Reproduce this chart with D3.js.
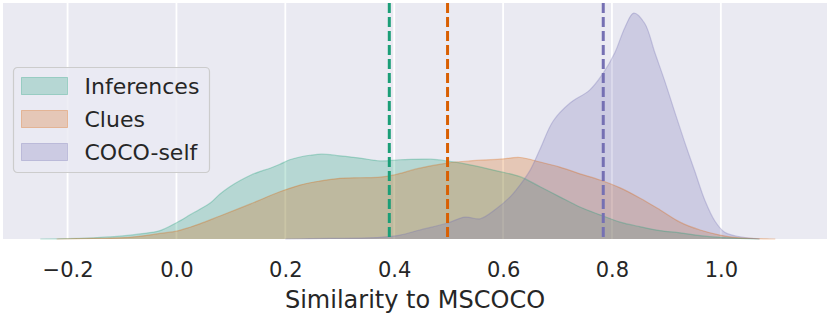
<!DOCTYPE html>
<html>
<head>
<meta charset="utf-8">
<script src="https://cdn.jsdelivr.net/npm/d3@7"></script>
<style>
  body { margin: 0; background: #fff; }
  text { font-family: "DejaVu Sans", sans-serif; fill: #262626; }
</style>
</head>
<body>
<svg id="chart"></svg>
<script>
const width = 830, height = 314;
const margin = {top: 3, right: 3, bottom: 75, left: 3};

// KDE curves: x values and density at each x
const infX = [-0.25, -0.20, -0.153, -0.104, -0.067, -0.03, 0.0, 0.025, 0.043, 0.062, 0.080, 0.098, 0.117, 0.135, 0.153, 0.172, 0.190, 0.208, 0.227, 0.245, 0.267, 0.30, 0.337, 0.374, 0.411, 0.466, 0.502, 0.539, 0.594, 0.631, 0.668, 0.704, 0.741, 0.778, 0.815, 0.851, 0.888, 0.925, 0.962, 0.998, 1.07];
const infY = [0, 0.005, 0.02, 0.05, 0.09, 0.15, 0.29, 0.43, 0.53, 0.64, 0.80, 0.93, 1.04, 1.13, 1.20, 1.26, 1.33, 1.41, 1.46, 1.49, 1.51, 1.48, 1.44, 1.39, 1.41, 1.42, 1.38, 1.32, 1.20, 1.11, 0.93, 0.75, 0.57, 0.43, 0.30, 0.22, 0.15, 0.11, 0.06, 0.03, 0];

const cluX = [-0.22, -0.153, -0.085, -0.03, 0.0, 0.025, 0.043, 0.080, 0.135, 0.190, 0.227, 0.263, 0.30, 0.337, 0.374, 0.40, 0.447, 0.497, 0.539, 0.594, 0.631, 0.668, 0.704, 0.741, 0.778, 0.815, 0.851, 0.888, 0.925, 0.962, 0.998, 1.035, 1.10];
const cluY = [0, 0.01, 0.03, 0.10, 0.14, 0.21, 0.27, 0.41, 0.62, 0.84, 0.96, 1.03, 1.08, 1.09, 1.10, 1.14, 1.26, 1.35, 1.39, 1.42, 1.45, 1.37, 1.28, 1.16, 1.05, 0.91, 0.73, 0.52, 0.30, 0.16, 0.07, 0.02, 0];

const cocoX = [0.20, 0.282, 0.374, 0.411, 0.447, 0.497, 0.530, 0.558, 0.585, 0.613, 0.631, 0.650, 0.668, 0.692, 0.723, 0.759, 0.783, 0.805, 0.824, 0.840, 0.860, 0.879, 0.897, 0.916, 0.934, 0.952, 0.971, 0.989, 1.007, 1.035, 1.072];
const cocoY = [0, 0.01, 0.03, 0.07, 0.16, 0.28, 0.39, 0.36, 0.52, 0.75, 0.96, 1.23, 1.60, 2.10, 2.42, 2.65, 2.94, 3.31, 3.77, 4.02, 3.84, 3.31, 2.81, 2.24, 1.71, 1.21, 0.68, 0.32, 0.12, 0.04, 0];

const names = ["Inferences", "Clues", "COCO-self"];
const colors = ["#1b9e77", "#d95f02", "#7570b3"];
const means = [0.391, 0.498, 0.784];
const xTicks = [-0.2, 0.0, 0.2, 0.4, 0.6, 0.8, 1.0];

const series = [
  {name: names[0], color: colors[0], pts: infX.map((x, i) => [x, infY[i]])},
  {name: names[1], color: colors[1], pts: cluX.map((x, i) => [x, cluY[i]])},
  {name: names[2], color: colors[2], pts: cocoX.map((x, i) => [x, cocoY[i]])}
];

const svg = d3.select('#chart')
    .attr('width', width).attr('height', height);

const x = d3.scaleLinear()
    .domain([-0.3186, 1.195])
    .range([margin.left, width - margin.right]);
const y = d3.scaleLinear()
    .domain([0, 4.2])
    .range([height - margin.bottom, margin.top]);

// background + grid
svg.append("rect")
    .attr("x", x.range()[0]).attr("y", y.range()[1])
    .attr("width", x.range()[1] - x.range()[0])
    .attr("height", y.range()[0] - y.range()[1])
    .attr("fill", "#eaeaf2");

svg.append("g")
  .selectAll("line")
  .data(xTicks)
  .join("line")
    .attr("x1", d => x(d)).attr("x2", d => x(d))
    .attr("y1", y.range()[1]).attr("y2", y.range()[0])
    .attr("stroke", "#fff")
    .attr("stroke-width", 1.8);

const area = d3.area()
    .x(d => x(d[0]))
    .y0(y(0))
    .y1(d => y(d[1]))
    .curve(d3.curveCatmullRom);
const line = d3.line()
    .x(d => x(d[0]))
    .y(d => y(d[1]))
    .curve(d3.curveCatmullRom);

const kde = svg.append("g");
kde.selectAll("path.fill")
  .data(series)
  .join("path")
    .attr("class", "fill")
    .attr("d", d => area(d.pts))
    .attr("fill", d => d.color)
    .attr("fill-opacity", 0.25);
kde.selectAll("path.edge")
  .data(series)
  .join("path")
    .attr("class", "edge")
    .attr("d", d => line(d.pts))
    .attr("fill", "none")
    .attr("stroke", d => d.color)
    .attr("stroke-opacity", 0.3)
    .attr("stroke-width", 1.2);

// dashed mean lines
svg.append("g")
  .selectAll("line")
  .data(means)
  .join("line")
    .attr("x1", d => x(d)).attr("x2", d => x(d))
    .attr("y1", y.range()[1]).attr("y2", y.range()[0])
    .attr("stroke", (d, i) => colors[i])
    .attr("stroke-width", 3)
    .attr("stroke-dasharray", "10,4");

// x axis
const xAxis = svg.append("g")
    .attr("transform", `translate(0,${y(0)})`)
    .call(d3.axisBottom(x).tickValues(xTicks).tickSize(0).tickPadding(0)
      .tickFormat(d => d3.format(".1f")(d).replace("-", "\u2212")));
xAxis.select(".domain").remove();
xAxis.selectAll("text")
    .attr("dy", null)
    .attr("y", 38)
    .attr("font-size", 21)
    .attr("fill", "#262626");

svg.append("text")
    .attr("x", (x.range()[0] + x.range()[1]) / 2)
    .attr("y", 308)
    .attr("text-anchor", "middle")
    .attr("font-size", 24)
    .text("Similarity to MSCOCO");

// legend
const leg = svg.append("g").attr("transform", "translate(13.5,67.5)");
leg.append("rect")
    .attr("width", 196).attr("height", 105)
    .attr("rx", 4)
    .attr("fill", "#eaeaf2").attr("fill-opacity", 0.8)
    .attr("stroke", "#cccccc").attr("stroke-width", 1.2);
const item = leg.selectAll("g.item")
  .data(series)
  .join("g")
    .attr("class", "item")
    .attr("transform", (d, i) => `translate(8,${10 + i * 33})`);
item.append("rect")
    .attr("width", 46).attr("height", 17)
    .attr("fill", d => d.color).attr("fill-opacity", 0.25)
    .attr("stroke", d => d.color).attr("stroke-opacity", 0.3);
item.append("text")
    .attr("x", 63).attr("y", 16.5)
    .attr("font-size", 22)
    .text(d => d.name);
</script>
</body>
</html>
